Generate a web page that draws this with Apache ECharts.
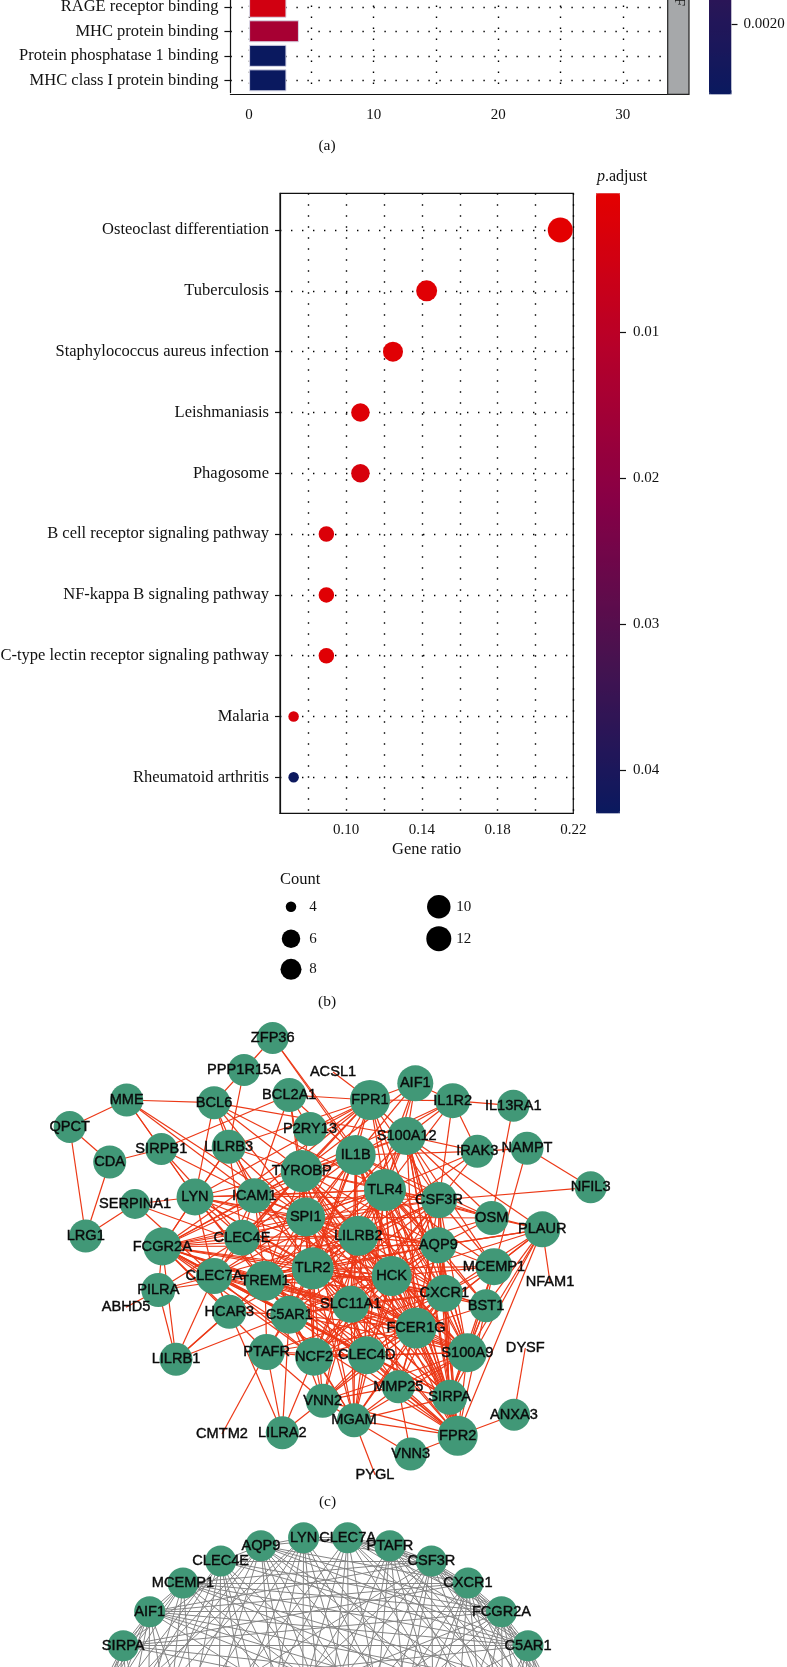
<!DOCTYPE html>
<html>
<head>
<meta charset="utf-8">
<title>Enrichment and PPI network</title>
<script src="https://cdn.jsdelivr.net/npm/echarts@6/dist/echarts.min.js"></script>
<style>
  html, body { margin: 0; padding: 0; background: #fff; }
  #main { width: 787px; height: 1667px; }
</style>
</head>
<body>
<div id="main"></div>
<script>
// ===== panel a: GO terms, only the last rows are on the page =====
var goTerms = ['RAGE receptor binding', 'MHC protein binding', 'Protein phosphatase 1 binding', 'MHC class I protein binding'];
var goCounts = [3, 4, 3, 3];
var goPadjust = [0.00034, 0.00081, 0.0022, 0.0022];
var goTicks = [0, 5, 10, 15, 20, 25, 30];
var goTickLabels = [0, 10, 20, 30];

// ===== panel b: KEGG dot plot =====
var keggTerms = ['Osteoclast differentiation', 'Tuberculosis', 'Staphylococcus aureus infection', 'Leishmaniasis', 'Phagosome',
  'B cell receptor signaling pathway', 'NF-kappa B signaling pathway', 'C-type lectin receptor signaling pathway', 'Malaria', 'Rheumatoid arthritis'];
var keggRatio = [0.2131, 0.1425, 0.1247, 0.1075, 0.1075, 0.0895, 0.0895, 0.0895, 0.0722, 0.0722];
var keggCount = [12, 8, 7, 6, 6, 5, 5, 5, 4, 4];
var keggPadjust = [0.0008, 0.0015, 0.0015, 0.002, 0.0035, 0.0025, 0.0015, 0.0015, 0.003, 0.0425];
var keggTicks = [0.08, 0.10, 0.12, 0.14, 0.16, 0.18, 0.20, 0.22];
var keggTickLabels = [0.10, 0.14, 0.18, 0.22];
var keggPTicks = [0.01, 0.02, 0.03, 0.04];

// dot diameter for each count
var countSize = { 4: 10.5, 5: 15.5, 6: 18.5, 7: 20, 8: 21, 10: 23.5, 12: 25 };
var legendCounts = [4, 6, 8, 10, 12];
var legendX = [291, 291, 291, 438.8, 438.8];
var legendY = [906.7, 938.7, 969.3, 906.7, 938.7];
var legendLabelGap = [22, 22, 22, 25, 25];

// ===== panel c: PPI network =====
var netGenes = ['ZFP36', 'PPP1R15A', 'ACSL1', 'MME', 'BCL6', 'BCL2A1', 'FPR1', 'QPCT', 'CDA', 'SIRPB1', 'LILRB3', 'P2RY13', 'IL1B', 'TYROBP', 'TLR4',
  'LYN', 'ICAM1', 'SERPINA1', 'SPI1', 'LILRB2', 'LRG1', 'FCGR2A', 'CLEC4E', 'AIF1', 'IL1R2', 'IL13RA1', 'S100A12', 'IRAK3', 'NAMPT', 'NFIL3',
  'CSF3R', 'OSM', 'PLAUR', 'AQP9', 'PILRA', 'CLEC7A', 'TREM1', 'TLR2', 'HCK', 'ABHD5', 'HCAR3', 'C5AR1', 'SLC11A1', 'LILRB1', 'PTAFR',
  'NCF2', 'CLEC4D', 'VNN2', 'MGAM', 'LILRA2', 'CMTM2', 'PYGL', 'MCEMP1', 'NFAM1', 'CXCR1', 'BST1', 'FCER1G', 'DYSF', 'S100A9', 'MMP25',
  'SIRPA', 'ANXA3', 'FPR2', 'VNN3'];
var netX = [272.7, 244, 333, 126.7, 214, 289.3, 370, 69.7, 109.7, 161.3, 228.7, 310, 355.7, 301.7, 385,
  195, 254.3, 135, 305.7, 358.3, 85.7, 162.3, 242, 415.3, 452.7, 513.3, 406.7, 477.3, 527, 590.7,
  439, 491.7, 542.3, 438.3, 158.3, 214, 265, 312.7, 391.7, 126, 229.3, 289.3, 350.7, 176, 266.7,
  314, 366.7, 322.7, 354, 282.3, 222, 375, 494, 550, 444.3, 486, 416, 525.3, 467.3, 398.3,
  449.7, 514, 457.7, 410.7];
var netY = [1038, 1070, 1072, 1100, 1102.7, 1095, 1100, 1127, 1162, 1149, 1146.7, 1129, 1155, 1171, 1190,
  1197, 1195.7, 1204, 1217, 1235.7, 1236, 1246.5, 1237.7, 1083.3, 1100.7, 1105.7, 1136, 1151.3, 1148.3, 1187.3,
  1200, 1218, 1229.3, 1245.3, 1290, 1276, 1280.7, 1268.3, 1276, 1307.3, 1311.7, 1314.7, 1304.3, 1359.3, 1352,
  1356.7, 1355.3, 1400.7, 1420.3, 1432.7, 1434, 1474.7, 1266.7, 1282, 1293.3, 1305.7, 1328, 1348, 1352.7, 1386.7,
  1397.3, 1414.7, 1435.7, 1454];
var netSize = [32, 32, 0, 33, 33, 34, 40, 32, 33, 32, 34, 34, 40, 42, 42,
  37, 35, 30, 39, 40, 33, 38, 36, 36, 35, 32, 38, 33, 33, 32,
  36, 34, 36, 36, 34, 36, 40, 42, 40, 0, 34, 38, 37, 33, 36,
  38, 38, 34, 34, 33, 0, 0, 37, 0, 37, 33, 41, 0, 39, 33,
  35, 32, 40, 33];
// first gene of each line is joined to the others on that line
var netEdges = [
  'ZFP36 PPP1R15A IL1B TLR4',
  'PPP1R15A BCL6 LILRB3',
  'ACSL1 FPR1',
  'MME BCL6 QPCT SIRPB1 LYN ICAM1 SPI1',
  'QPCT CDA LRG1',
  'CDA SIRPB1 LRG1',
  'SIRPB1 BCL2A1 LYN CLEC4E ICAM1',
  'BCL6 LYN LILRB3 TYROBP TLR4 ICAM1 S100A12 SPI1',
  'BCL2A1 P2RY13 TYROBP FPR1 ICAM1 TLR2 IL1B',
  'LILRB3 LYN TYROBP ICAM1 SPI1 TLR2 CLEC4E FCGR2A',
  'SERPINA1 LRG1 LYN TLR2 CLEC7A',
  'NFIL3 NAMPT CSF3R',
  'IL13RA1 IL1R2 OSM',
  'NAMPT IRAK3 MCEMP1',
  'IRAK3 IL1R2 S100A12 CSF3R TLR4 TLR2 IL1B',
  'IL1R2 AIF1 FPR1 S100A12 IL1B TYROBP TLR4 CSF3R',
  'AIF1 FPR1 IL1B S100A12 TLR4 TYROBP LILRB2',
  'OSM CSF3R PLAUR TLR4 AQP9 SPI1 IL1B TLR2 S100A12',
  'PLAUR S100A12 AQP9 CXCR1 MCEMP1 FCER1G BST1 SIRPA FPR2 NFAM1 HCK TLR4 S100A9',
  'DYSF ANXA3',
  'ANXA3 FPR2',
  'VNN3 FPR2 MGAM MMP25',
  'PYGL MGAM',
  'CMTM2 PTAFR',
  'LILRA2 CLEC7A PTAFR NCF2 VNN2 C5AR1',
  'ABHD5 PILRA',
  'LILRB1 PILRA FCGR2A HCAR3 C5AR1 CLEC7A TREM1',
  'PILRA FCGR2A TLR2 CLEC4E',
  'TYROBP TLR2 TLR4 IL1B SPI1 LILRB2 HCK FCER1G SLC11A1 CXCR1 C5AR1 NCF2 CLEC4D CSF3R AQP9 S100A12 FPR1 TREM1 ICAM1 CLEC4E CLEC7A FCGR2A LYN S100A9 SIRPA FPR2 MGAM P2RY13',
  'TLR2 TLR4 IL1B SPI1 LILRB2 HCK FCER1G SLC11A1 CXCR1 C5AR1 NCF2 CLEC4D CSF3R AQP9 S100A12 FPR1 TREM1 ICAM1 CLEC4E CLEC7A FCGR2A LYN S100A9 SIRPA FPR2 MGAM VNN2 MMP25 MCEMP1 BST1 PTAFR HCAR3',
  'TLR4 IL1B SPI1 LILRB2 HCK FCER1G SLC11A1 CXCR1 C5AR1 NCF2 CLEC4D CSF3R AQP9 S100A12 FPR1 TREM1 ICAM1 CLEC4E CLEC7A FCGR2A LYN S100A9 SIRPA FPR2 MGAM MMP25 MCEMP1 BST1',
  'IL1B SPI1 LILRB2 HCK FCER1G SLC11A1 CXCR1 C5AR1 CSF3R AQP9 S100A12 FPR1 TREM1 ICAM1 CLEC4E FCGR2A S100A9 SIRPA FPR2 MGAM',
  'SPI1 LILRB2 HCK FCER1G SLC11A1 CXCR1 C5AR1 NCF2 CLEC4D CSF3R AQP9 ICAM1 CLEC4E CLEC7A FCGR2A LYN S100A9 SIRPA',
  'LILRB2 HCK FCER1G SLC11A1 CXCR1 C5AR1 NCF2 CLEC4D CSF3R AQP9 S100A12 TREM1 ICAM1 CLEC4E CLEC7A FCGR2A LYN S100A9 SIRPA FPR2 MMP25 VNN2',
  'HCK FCER1G SLC11A1 CXCR1 C5AR1 NCF2 CLEC4D CSF3R AQP9 TREM1 CLEC7A FCGR2A LYN S100A9 SIRPA FPR2 MCEMP1 BST1 MGAM',
  'FCER1G SLC11A1 CXCR1 C5AR1 NCF2 CLEC4D CSF3R AQP9 S100A12 TREM1 ICAM1 CLEC4E CLEC7A FCGR2A LYN S100A9 SIRPA FPR2 MGAM VNN2 MMP25 MCEMP1 BST1 PTAFR',
  'SLC11A1 CXCR1 C5AR1 NCF2 CLEC4D CSF3R AQP9 TREM1 CLEC7A FCGR2A S100A9 SIRPA FPR2 MGAM VNN2',
  'CXCR1 C5AR1 NCF2 CLEC4D CSF3R AQP9 S100A12 TREM1 FCGR2A S100A9 SIRPA FPR2 MGAM VNN2 MMP25 MCEMP1 BST1 PTAFR',
  'C5AR1 NCF2 CLEC4D CSF3R AQP9 TREM1 ICAM1 CLEC7A FCGR2A LYN S100A9 SIRPA FPR2 MGAM VNN2 PTAFR HCAR3',
  'NCF2 CLEC4D CSF3R AQP9 TREM1 CLEC7A FCGR2A S100A9 VNN2 MGAM PTAFR',
  'CLEC4D CSF3R TREM1 CLEC7A CLEC4E FCGR2A S100A9 SIRPA FPR2 VNN2 MGAM MMP25 PTAFR',
  'CSF3R AQP9 S100A12 FPR1 TREM1 ICAM1 FCGR2A S100A9 SIRPA FPR2 MCEMP1',
  'AQP9 S100A12 TREM1 FCGR2A LYN S100A9 SIRPA FPR2 MCEMP1 BST1 PLAUR MMP25',
  'S100A12 FPR1 TREM1 S100A9 SIRPA FPR2 MCEMP1',
  'FPR1 TREM1 S100A9 FPR2 FCGR2A LILRB3 P2RY13 CLEC4E ICAM1 LYN',
  'TREM1 ICAM1 CLEC4E CLEC7A FCGR2A LYN S100A9 FPR2 SIRPA HCAR3 PTAFR',
  'ICAM1 CLEC4E FCGR2A LYN CLEC7A',
  'CLEC4E CLEC7A FCGR2A LYN',
  'CLEC7A FCGR2A LYN PILRA S100A9 HCAR3',
  'FCGR2A LYN S100A9 SIRPA FPR2 PTAFR HCAR3',
  'S100A9 SIRPA FPR2 MGAM MMP25 MCEMP1 BST1 VNN2',
  'SIRPA FPR2 MGAM MMP25 MCEMP1 BST1',
  'FPR2 MGAM MMP25 VNN2 BST1',
  'MGAM VNN2 MMP25',
  'VNN2 PTAFR MMP25',
  'MCEMP1 BST1'
];

// ===== panel d: circular network, the lower half runs off the page =====
var ringGenes = ['LYN', 'CLEC7A', 'AQP9', 'PTAFR', 'CLEC4E', 'CSF3R', 'MCEMP1', 'CXCR1', 'AIF1', 'FCGR2A', 'SIRPA', 'C5AR1',
  'FPR1', 'TLR4', 'TYROBP', 'SPI1', 'HCK', 'NCF2', 'LILRB2', 'S100A12', 'TLR2', 'IL1B', 'FCER1G', 'FPR2', 'SLC11A1', 'CLEC4D'];
var ringX = [303.6, 347.6, 260.9, 389.9, 220.7, 431.4, 183, 468, 149.7, 501.5, 123.2, 528,
  99.6, 87.6, 83.6, 99.6, 145.6, 215.6, 300.6, 551.6, 563.6, 567.6, 551.6, 505.6, 435.6, 350.6];
var ringY = [1537.7, 1537.7, 1545.7, 1545.7, 1561, 1561, 1583, 1583, 1611.7, 1611.7, 1645.7, 1645.7,
  1691, 1734, 1779, 1866, 1941, 1995, 2020, 1691, 1734, 1779, 1866, 1941, 1995, 2020];
var ringEdges = [
  'LYN CLEC7A PTAFR CSF3R TLR4 TYROBP SPI1 HCK NCF2 LILRB2 CLEC4D SLC11A1 FCER1G FPR2',
  'CLEC7A PTAFR CSF3R CXCR1 FCGR2A C5AR1 TLR2 IL1B FCER1G SLC11A1 CLEC4D LILRB2 NCF2 HCK SPI1',
  'AQP9 LYN CLEC7A CXCR1 FCGR2A C5AR1 SIRPA TLR4 TYROBP SPI1 HCK LILRB2 CLEC4D SLC11A1 FCER1G FPR2 IL1B TLR2',
  'PTAFR CSF3R CXCR1 FCGR2A C5AR1 TLR2 IL1B FCER1G FPR2 SLC11A1 CLEC4D LILRB2 NCF2 HCK',
  'CLEC4E AQP9 CSF3R C5AR1 FCGR2A TLR4 TYROBP SPI1 HCK NCF2 LILRB2 CLEC4D SLC11A1 FCER1G FPR2',
  'CSF3R CXCR1 FCGR2A C5AR1 TLR2 S100A12 IL1B FCER1G SLC11A1 CLEC4D LILRB2 NCF2 HCK SPI1 TYROBP AIF1 MCEMP1',
  'MCEMP1 AIF1 SIRPA CXCR1 FCGR2A C5AR1 S100A12 TLR2 FPR1 TLR4 SPI1 HCK NCF2 FCER1G FPR2',
  'CXCR1 FCGR2A C5AR1 S100A12 TLR2 IL1B FCER1G FPR2 SLC11A1 CLEC4D LILRB2 NCF2 HCK AIF1 SIRPA',
  'AIF1 SIRPA FCGR2A C5AR1 FPR1 TLR4 TYROBP SPI1 HCK NCF2 LILRB2 S100A12 TLR2 IL1B FCER1G',
  'FCGR2A C5AR1 S100A12 TLR2 IL1B FCER1G FPR2 SLC11A1 CLEC4D SIRPA TYROBP SPI1 HCK',
  'SIRPA C5AR1 FPR1 TLR4 TYROBP SPI1 HCK NCF2 S100A12 TLR2',
  'C5AR1 S100A12 TLR2 IL1B FCER1G FPR2 SLC11A1 CLEC4D SPI1 FPR1'
];

var serif = '"Liberation Serif", serif';
var sans = '"Liberation Sans", sans-serif';
var ink = '#111';
var pColors = ['#e40000', '#b6002a', '#860046', '#47124f', '#0a195f'];
var dotted = { color: '#000', width: 1.4, type: [1.4, 9.6] };

function makeLinks(lines) {
  var links = [];
  lines.forEach(function (line) {
    var names = line.split(' ');
    names.slice(1).forEach(function (other) {
      links.push({ source: names[0], target: other });
    });
  });
  return links;
}

function makeNodes(names, xs, ys, sizes) {
  return names.map(function (name, i) {
    var size = sizes ? sizes[i] : 31;
    return {
      name: name,
      value: [xs[i], ys[i]],
      symbolSize: size || 1,
      itemStyle: { color: size ? '#419877' : 'rgba(0,0,0,0)' }
    };
  });
}

function netSeries(name, nodes, links, edgeStyle) {
  return {
    name: name,
    type: 'graph',
    layout: 'none',
    coordinateSystem: 'cartesian2d',
    xAxisIndex: 4,
    yAxisIndex: 4,
    data: nodes,
    links: links,
    lineStyle: edgeStyle,
    label: {
      show: true,
      position: 'inside',
      formatter: '{b}',
      fontFamily: sans,
      fontSize: 14.6,
      color: '#0a0a0a',
      textBorderColor: '#0a0a0a',
      textBorderWidth: 0.4
    },
    silent: true
  };
}

function panelLabel(text, x, y) {
  return {
    type: 'text',
    x: x,
    y: y,
    style: { text: text, font: '15.5px ' + serif, fill: ink, align: 'center', verticalAlign: 'middle' }
  };
}

// the visualMap bar has rounded corners, these squares sit behind them
function barCorner(x, y, w, color) {
  return { type: 'rect', z: 1, shape: { x: x, y: y, width: w, height: 4 }, style: { fill: color } };
}

var chart = echarts.init(document.getElementById('main'), null, { renderer: 'canvas' });

var option = {
  animation: false,
  backgroundColor: '#fff',
  grid: [
    { left: 230.4, top: -5.5, width: 437.3, height: 98.1, outerBoundsMode: 'none' },
    { left: 280, top: 193.3, width: 293.3, height: 620, show: true, borderColor: ink, borderWidth: 1.2, backgroundColor: 'transparent', outerBoundsMode: 'none' },
    { left: 709, top: -630, width: 22.5, height: 724.3, outerBoundsMode: 'none' },
    { left: 596, top: 193.3, width: 24, height: 620, outerBoundsMode: 'none' },
    { left: 0, top: 0, width: 787, height: 1667, outerBoundsMode: 'none' }
  ],
  xAxis: [
    {
      gridIndex: 0, type: 'value', position: 'bottom', min: -1.5, max: 33.6, offset: 1.7,
      axisLine: { show: true, onZero: false, lineStyle: { color: ink, width: 1.2 } },
      axisTick: { show: false, customValues: goTicks },
      axisLabel: { customValues: goTickLabels, fontFamily: serif, fontSize: 15, color: ink, margin: 13 },
      splitLine: { show: true, lineStyle: dotted }
    },
    {
      gridIndex: 1, type: 'value', position: 'bottom', min: 0.065, max: 0.22,
      name: 'Gene ratio', nameLocation: 'middle', nameGap: 28,
      nameTextStyle: { fontFamily: serif, fontSize: 16.5, color: ink },
      axisLine: { show: true, onZero: false, lineStyle: { color: ink, width: 1.2 } },
      axisTick: { show: false, customValues: keggTicks },
      axisLabel: {
        customValues: keggTickLabels, fontFamily: serif, fontSize: 15, color: ink, margin: 9,
        formatter: function (v) { return v.toFixed(2); }
      },
      splitLine: { show: true, lineStyle: dotted }
    },
    { gridIndex: 2, type: 'value', show: false, min: 0, max: 1 },
    { gridIndex: 3, type: 'value', show: false, min: 0, max: 1 },
    { gridIndex: 4, type: 'value', show: false, min: 0, max: 787 }
  ],
  yAxis: [
    {
      gridIndex: 0, type: 'category', inverse: true, data: goTerms,
      axisLine: { show: true, onZero: false, lineStyle: { color: ink, width: 1.2 } },
      axisTick: { show: true, alignWithLabel: true, length: 6, lineStyle: { color: ink, width: 1.2 } },
      axisLabel: { fontFamily: serif, fontSize: 16.5, color: ink, margin: 12 },
      splitLine: { show: true, alignWithLabel: true, lineStyle: dotted }
    },
    {
      gridIndex: 1, type: 'value', inverse: true, min: 0.396, max: 10.592,
      axisLine: { show: true, onZero: false, lineStyle: { color: ink, width: 1.2 } },
      axisTick: { show: true, length: 5, customValues: [1, 2, 3, 4, 5, 6, 7, 8, 9, 10], lineStyle: { color: ink, width: 1.2 } },
      axisLabel: {
        customValues: [1, 2, 3, 4, 5, 6, 7, 8, 9, 10], fontFamily: serif, fontSize: 16.5, color: ink, margin: 11,
        formatter: function (v) { return keggTerms[v - 1]; }
      },
      splitLine: { show: true, lineStyle: dotted }
    },
    {
      gridIndex: 2, type: 'value', inverse: true, position: 'right', min: 0.00013, max: 0.0022,
      axisLine: { show: false, onZero: false },
      axisTick: { show: true, length: 6, customValues: [0.002], lineStyle: { color: ink, width: 1.2 } },
      axisLabel: {
        customValues: [0.002], fontFamily: serif, fontSize: 15, color: ink, margin: 12,
        formatter: function (v) { return v.toFixed(4); }
      },
      splitLine: { show: false }
    },
    {
      gridIndex: 3, type: 'value', inverse: true, position: 'right', min: 0.00052, max: 0.04297,
      axisLine: { show: false, onZero: false },
      axisTick: { show: true, length: 6, customValues: keggPTicks, lineStyle: { color: ink, width: 1.2 } },
      axisLabel: {
        customValues: keggPTicks, fontFamily: serif, fontSize: 15, color: ink, margin: 13,
        formatter: function (v) { return v.toFixed(2); }
      },
      splitLine: { show: false }
    },
    { gridIndex: 4, type: 'value', show: false, inverse: true, min: 0, max: 1667 }
  ],
  visualMap: [
    {
      type: 'continuous', seriesIndex: 0, dimension: 2, min: 0.00013, max: 0.0022, inverse: true,
      left: 709, top: -630, itemWidth: 22.5, itemHeight: 724.3, padding: 0,
      calculable: false, realtime: false, inRange: { color: pColors }, textStyle: { fontSize: 0 }
    },
    {
      type: 'continuous', seriesIndex: 1, dimension: 2, min: 0.00052, max: 0.04297, inverse: true,
      left: 596, top: 193.3, itemWidth: 24, itemHeight: 620, padding: 0,
      calculable: false, realtime: false, inRange: { color: pColors }, textStyle: { fontSize: 0 }
    }
  ],
  series: [
    {
      name: 'GO',
      type: 'bar',
      xAxisIndex: 0,
      yAxisIndex: 0,
      barWidth: 22,
      encode: { x: 0, y: 1 },
      itemStyle: { borderColor: '#d8d8e8', borderWidth: 1 },
      data: goTerms.map(function (t, i) { return [goCounts[i], t, goPadjust[i]]; })
    },
    {
      name: 'KEGG',
      type: 'scatter',
      xAxisIndex: 1,
      yAxisIndex: 1,
      itemStyle: { opacity: 1 },
      symbolSize: function (d) { return countSize[d[3]]; },
      data: keggTerms.map(function (t, i) { return [keggRatio[i], i + 1, keggPadjust[i], keggCount[i]]; })
    },
    {
      name: 'Count',
      type: 'scatter',
      xAxisIndex: 4,
      yAxisIndex: 4,
      itemStyle: { color: '#000', opacity: 1 },
      symbolSize: function (d) { return countSize[d[2]]; },
      data: legendCounts.map(function (c, i) {
        return {
          value: [legendX[i], legendY[i], c],
          label: {
            show: true, position: 'inside', offset: [legendLabelGap[i], 0], formatter: String(c),
            fontFamily: serif, fontSize: 15, color: ink
          }
        };
      })
    },
    netSeries('PPI', makeNodes(netGenes, netX, netY, netSize), makeLinks(netEdges), { color: '#ec3816', width: 1.2, opacity: 1 }),
    netSeries('Hub', makeNodes(ringGenes, ringX, ringY), makeLinks(ringEdges), { color: '#858585', width: 1, opacity: 1 })
  ],
  graphic: [
    barCorner(596, 193.3, 24, pColors[0]),
    barCorner(596, 809.3, 24, pColors[4]),
    barCorner(709, 90.3, 22.5, pColors[4]),
    { type: 'rect', z: 10, shape: { x: 667.7, y: -6, width: 21.3, height: 100.3 }, style: { fill: '#a6a8aa', stroke: '#222', lineWidth: 1.2 } },
    { type: 'text', z: 11, x: 678.5, y: -4.8, rotation: -Math.PI / 2, style: { text: 'MF', font: '15px ' + serif, fill: ink, align: 'center', verticalAlign: 'middle' } },
    panelLabel('(a)', 327, 146),
    panelLabel('(b)', 327, 1001.7),
    panelLabel('(c)', 327.5, 1501.7),
    {
      type: 'text',
      x: 597,
      y: 176.7,
      style: {
        text: '{i|p}{n|.adjust}',
        verticalAlign: 'middle',
        rich: {
          i: { font: 'italic 16px ' + serif, fill: ink },
          n: { font: '16px ' + serif, fill: ink }
        }
      }
    },
    { type: 'text', x: 280, y: 880, style: { text: 'Count', font: '16.5px ' + serif, fill: ink, verticalAlign: 'middle' } }
  ]
};

chart.setOption(option);
</script>
</body>
</html>
